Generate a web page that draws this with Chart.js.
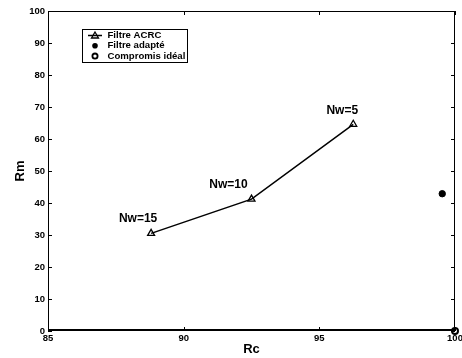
<!DOCTYPE html>
<html lang="fr">
<head>
  <meta charset="UTF-8">
  <title>Rm en fonction de Rc</title>
  <script src="https://cdn.jsdelivr.net/npm/chart.js"></script>
  <style>
    html, body { margin: 0; padding: 0; background: #fff; }
    #wrap { width: 462px; height: 358px; }
  </style>
</head>
<body>
  <div id="wrap"><canvas id="chart" width="462" height="358"></canvas></div>
  <script>
    // données
    const acrcRc = [88.8, 92.5, 96.25];
    const acrcRm = [30.5, 41.2, 64.6];
    const acrcLabels = ['Nw=15', 'Nw=10', 'Nw=5'];
    const adapteRc = [99.53];
    const adapteRm = [42.9];
    const idealRc = [100];
    const idealRm = [0];
    const xTicks = [85, 90, 95, 100];
    const yTicks = [0, 10, 20, 30, 40, 50, 60, 70, 80, 90, 100];

    const FONT = '"Liberation Sans", Arial, sans-serif';

    function pts(xs, ys) {
      return xs.map((x, i) => ({ x: x, y: ys[i] }));
    }

    // cadre, graduations intérieures, étiquettes Nw et légende
    const decor = {
      id: 'decor',
      afterDatasetsDraw(chart) {
        const ctx = chart.ctx;
        const a = chart.chartArea;
        const xs = chart.scales.x, ys = chart.scales.y;
        ctx.save();
        ctx.strokeStyle = '#000';
        ctx.lineWidth = 1;
        ctx.strokeRect(a.left + 0.5, a.top + 0.5, a.right - a.left - 1, a.bottom - a.top - 1);
        ctx.lineWidth = 2;
        ctx.beginPath();
        ctx.moveTo(a.left, a.bottom - 1);
        ctx.lineTo(a.right, a.bottom - 1);
        ctx.stroke();
        ctx.lineWidth = 1;
        const t = 4;
        ctx.beginPath();
        yTicks.forEach(v => {
          const y = Math.round(ys.getPixelForValue(v)) + 0.5;
          ctx.moveTo(a.left, y); ctx.lineTo(a.left + t, y);
          ctx.moveTo(a.right, y); ctx.lineTo(a.right - t, y);
        });
        xTicks.forEach(v => {
          const x = Math.round(xs.getPixelForValue(v)) + 0.5;
          ctx.moveTo(x, a.bottom); ctx.lineTo(x, a.bottom - t);
          ctx.moveTo(x, a.top); ctx.lineTo(x, a.top + t);
        });
        ctx.stroke();

        // étiquettes des points ACRC
        const offs = [[-13, -15], [-23, -14], [-11, -14]];
        ctx.font = 'bold 12px ' + FONT;
        ctx.fillStyle = '#000';
        ctx.textAlign = 'center';
        ctx.textBaseline = 'middle';
        acrcLabels.forEach((s, i) => {
          const px = xs.getPixelForValue(acrcRc[i]);
          const py = ys.getPixelForValue(acrcRm[i]);
          ctx.fillText(s, px + offs[i][0], py + offs[i][1]);
        });

        // légende
        const lx = 82.5, ly = 29.5, lw = 105, lh = 33;
        ctx.fillStyle = '#fff';
        ctx.fillRect(lx, ly, lw, lh);
        ctx.strokeStyle = '#000';
        ctx.lineWidth = 1;
        ctx.strokeRect(lx, ly, lw, lh);
        ctx.font = 'bold 9.6px ' + FONT;
        ctx.textAlign = 'left';
        ctx.fillStyle = '#000';
        const mx = 95, tx = 107.5;
        chart.data.datasets.forEach((ds, i) => {
          const y = 35.5 + i * 10.3;
          if (i === 0) {
            ctx.lineWidth = 1.5;
            ctx.beginPath();
            ctx.moveTo(88, y); ctx.lineTo(102, y);
            ctx.stroke();
            ctx.lineWidth = 1.3;
            ctx.beginPath();
            ctx.moveTo(mx, y - 3.5); ctx.lineTo(mx + 3.5, y + 2.5); ctx.lineTo(mx - 3.5, y + 2.5);
            ctx.closePath();
            ctx.stroke();
          } else if (i === 1) {
            ctx.beginPath();
            ctx.arc(mx, y, 2.8, 0, Math.PI * 2);
            ctx.fill();
          } else {
            ctx.lineWidth = 1.8;
            ctx.beginPath();
            ctx.arc(mx, y, 2.6, 0, Math.PI * 2);
            ctx.stroke();
          }
          ctx.fillText(ds.label, tx, y);
        });
        ctx.restore();
      }
    };

    new Chart(document.getElementById('chart'), {
      type: 'scatter',
      data: {
        datasets: [{
          label: 'Filtre ACRC',
          data: pts(acrcRc, acrcRm),
          showLine: true,
          borderColor: '#000',
          borderWidth: 1.5,
          pointStyle: 'triangle',
          pointRadius: 4,
          pointBorderWidth: 1.3,
          pointBackgroundColor: 'rgba(0,0,0,0)',
          pointBorderColor: '#000',
          clip: false
        }, {
          label: 'Filtre adapté',
          data: pts(adapteRc, adapteRm),
          pointStyle: 'circle',
          pointRadius: 3.2,
          pointBackgroundColor: '#000',
          pointBorderColor: '#000',
          clip: false
        }, {
          label: 'Compromis idéal',
          data: pts(idealRc, idealRm),
          pointStyle: 'circle',
          pointRadius: 3,
          pointBorderWidth: 2,
          pointBackgroundColor: '#fff',
          pointBorderColor: '#000',
          clip: false
        }]
      },
      options: {
        responsive: false,
        animation: false,
        layout: { padding: { top: 11, right: 7, left: 0, bottom: 0 } },
        plugins: { legend: { display: false }, tooltip: { enabled: false } },
        scales: {
          x: {
            type: 'linear',
            min: 85, max: 100,
            afterBuildTicks: s => { s.ticks = xTicks.map(v => ({ value: v })); },
            afterFit: s => { s.height = 27; s.paddingLeft = 0; s.paddingRight = 0; },
            grid: { display: false, drawTicks: false },
            border: { display: false },
            ticks: {
              padding: 2,
              maxRotation: 0,
              font: { family: FONT, size: 9.5, weight: 'bold' },
              color: '#000'
            },
            title: {
              display: true,
              text: 'Rc',
              font: { family: FONT, size: 13, weight: 'bold' },
              color: '#000',
              padding: { top: 0, bottom: 1 }
            }
          },
          y: {
            type: 'linear',
            min: 0, max: 100,
            afterBuildTicks: s => { s.ticks = yTicks.map(v => ({ value: v })); },
            afterFit: s => { s.width = 48; s.paddingTop = 0; s.paddingBottom = 0; },
            grid: { display: false, drawTicks: false },
            border: { display: false },
            ticks: {
              padding: 3,
              font: { family: FONT, size: 9.5, weight: 'bold' },
              color: '#000'
            },
            title: {
              display: true,
              text: 'Rm',
              font: { family: FONT, size: 13, weight: 'bold' },
              color: '#000',
              padding: { top: 13, bottom: 0 }
            }
          }
        }
      },
      plugins: [decor]
    });
  </script>
</body>
</html>
